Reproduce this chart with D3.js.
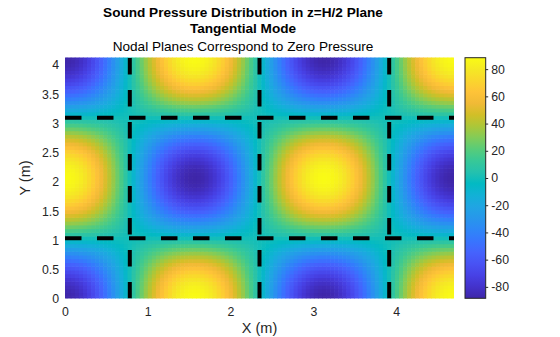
<!DOCTYPE html>
<html><head><meta charset="utf-8">
<script src="https://cdn.jsdelivr.net/npm/d3@7"></script>
<style>
html,body{margin:0;padding:0;background:#fff;}
svg{display:block;font-family:"Liberation Sans",Arial,Helvetica,sans-serif;}
</style></head>
<body>
<svg id="chart" width="560" height="337"></svg>
<script>
// ---- data ----
const roomSize = [4.7, 4.12];            // plotted extent in X and Y (m)
const amplitude = 88.4;                   // peak |pressure| (colour limits)
// normalized pressure profile along X (97 samples, 0..Lx)
const xShape = [1,0.995,0.981,0.957,0.924,0.882,0.831,0.773,0.707,0.634,0.556,0.471,0.383,0.29,0.195,0.098,0,
 -0.098,-0.195,-0.29,-0.383,-0.471,-0.556,-0.634,-0.707,-0.773,-0.831,-0.882,-0.924,-0.957,-0.981,-0.995,-1,
 -0.995,-0.981,-0.957,-0.924,-0.882,-0.831,-0.773,-0.707,-0.634,-0.556,-0.471,-0.383,-0.29,-0.195,-0.098,0,
 0.098,0.195,0.29,0.383,0.471,0.556,0.634,0.707,0.773,0.831,0.882,0.924,0.957,0.981,0.995,1,
 0.995,0.981,0.957,0.924,0.882,0.831,0.773,0.707,0.634,0.556,0.471,0.383,0.29,0.195,0.098,0,
 -0.098,-0.195,-0.29,-0.383,-0.471,-0.556,-0.634,-0.707,-0.773,-0.831,-0.882,-0.924,-0.957,-0.981,-0.995,-1];
// normalized pressure profile along Y (65 samples, 0..Ly), as seen in the x=0 column
const yShape = [-1,-0.995,-0.981,-0.957,-0.924,-0.882,-0.831,-0.773,-0.707,-0.634,-0.556,-0.471,-0.383,-0.29,-0.195,-0.098,0,
 0.098,0.195,0.29,0.383,0.471,0.556,0.634,0.707,0.773,0.831,0.882,0.924,0.957,0.981,0.995,1,
 0.995,0.981,0.957,0.924,0.882,0.831,0.773,0.707,0.634,0.556,0.471,0.383,0.29,0.195,0.098,0,
 -0.098,-0.195,-0.29,-0.383,-0.471,-0.556,-0.634,-0.707,-0.773,-0.831,-0.882,-0.924,-0.957,-0.981,-0.995,-1];
const nodalX = [0.783, 2.35, 3.917];
const nodalY = [1.03, 3.09];
const xTicks = [0, 1, 2, 3, 4];
const yTicks = [0, 0.5, 1, 1.5, 2, 2.5, 3, 3.5, 4];
const cTicks = [-80, -60, -40, -20, 0, 20, 40, 60, 80];
const titles = ["Sound Pressure Distribution in z=H/2 Plane", "Tangential Mode", "Nodal Planes Correspond to Zero Pressure"];

// parula colormap anchors (style)
const parula = ["rgb(62,38,168)","rgb(67,50,203)","rgb(71,65,229)","rgb(72,82,244)","rgb(69,99,253)","rgb(56,117,254)",
 "rgb(46,135,247)","rgb(39,151,235)","rgb(32,165,227)","rgb(18,177,214)","rgb(2,186,195)","rgb(36,193,174)",
 "rgb(55,200,151)","rgb(87,204,122)","rgb(129,204,89)","rgb(171,199,57)","rgb(209,191,39)","rgb(240,186,54)",
 "rgb(254,195,56)","rgb(250,214,45)","rgb(245,233,36)","rgb(249,251,21)"];

// ---- build grid table ----
const nx = xShape.length, ny = yShape.length;
const dx = roomSize[0] / (nx - 1), dy = roomSize[1] / (ny - 1);
const cells = [];
for (let j = 0; j < ny; j++) for (let i = 0; i < nx; i++) {
  cells.push({x: i * dx, y: j * dy, v: amplitude * xShape[i] * yShape[j]});
}

const svg = d3.select("#chart");
const L = 65, R = 454, T = 57.5, B = 298.5;
const x = d3.scaleLinear().domain([0, roomSize[0]]).range([L, R]);
const y = d3.scaleLinear().domain([0, roomSize[1]]).range([B, T]);
const cDomain = parula.map((_, k) => -amplitude + 2 * amplitude * k / (parula.length - 1));
const color = d3.scaleLinear().domain(cDomain).range(parula).interpolate(d3.interpolateRgb).clamp(true);
const fmt = d => String(d);

svg.append("clipPath").attr("id", "clip").append("rect")
  .attr("x", L).attr("y", T).attr("width", R - L).attr("height", B - T);

const g = svg.append("g").attr("clip-path", "url(#clip)");
g.selectAll("rect.cell").data(cells).enter().append("rect").attr("class", "cell")
  .attr("x", d => x(d.x - dx / 2) - 0.3)
  .attr("y", d => y(d.y + dy / 2) - 0.3)
  .attr("width", x(dx) - x(0) + 0.6)
  .attr("height", y(0) - y(dy) + 0.6)
  .attr("fill", d => color(d.v));

// nodal dashed lines
const dash = "16.5 15.5";
g.selectAll("line.nx").data(nodalX).enter().append("line")
  .attr("x1", d => x(d)).attr("x2", d => x(d))
  .attr("y1", y(0)).attr("y2", y(roomSize[1]))
  .attr("stroke", "#000").attr("stroke-width", 4).attr("stroke-dasharray", dash);
g.selectAll("line.ny").data(nodalY).enter().append("line")
  .attr("y1", d => y(d)).attr("y2", d => y(d))
  .attr("x1", x(0)).attr("x2", x(roomSize[0]))
  .attr("stroke", "#000").attr("stroke-width", 4).attr("stroke-dasharray", dash);

// axes
const tickCol = "#262626";
const xAxis = d3.axisBottom(x).tickValues(xTicks).tickSize(0).tickPadding(0).tickFormat(fmt);
const ax = svg.append("g").attr("transform", `translate(0,${B})`).call(xAxis);
ax.select(".domain").remove();
ax.selectAll("text").attr("dy", null).attr("y", 17).attr("font-size", "12.3px").attr("fill", tickCol)
  .attr("font-family", "'Liberation Sans',Arial,sans-serif");

const yAxis = d3.axisLeft(y).tickValues(yTicks).tickSize(0).tickPadding(0).tickFormat(fmt);
const ay = svg.append("g").attr("transform", `translate(${L},0)`).call(yAxis);
ay.select(".domain").remove();
ay.selectAll("text").attr("x", -6).attr("dy", "0.36em").attr("font-size", "12.3px").attr("fill", tickCol)
  .attr("font-family", "'Liberation Sans',Arial,sans-serif");

svg.append("text").attr("x", (L + R) / 2).attr("y", 333).attr("text-anchor", "middle")
  .attr("font-size", "14.5px").attr("fill", tickCol).text("X (m)");
svg.append("text").attr("transform", `translate(30,${(T + B) / 2}) rotate(-90)`).attr("text-anchor", "middle")
  .attr("font-size", "14.5px").attr("fill", tickCol).text("Y (m)");

// titles
const tx = 243;
svg.append("text").attr("x", tx).attr("y", 16.8).attr("text-anchor", "middle").attr("font-weight", "bold")
  .attr("font-size", "13.6px").attr("fill", "#000").text(titles[0]);
svg.append("text").attr("x", tx).attr("y", 33.4).attr("text-anchor", "middle").attr("font-weight", "bold")
  .attr("font-size", "13.6px").attr("fill", "#000").text(titles[1]);
svg.append("text").attr("x", tx).attr("y", 51.2).attr("text-anchor", "middle")
  .attr("font-size", "13.6px").attr("fill", "#000").text(titles[2]);

// colorbar
const cbL = 465, cbR = 485.7;
const cy = d3.scaleLinear().domain([-amplitude, amplitude]).range([B - 0.2, T + 0.2]);
const grad = svg.append("defs").append("linearGradient").attr("id", "cbgrad")
  .attr("x1", 0).attr("x2", 0).attr("y1", 1).attr("y2", 0);
grad.selectAll("stop").data(cDomain).enter().append("stop")
  .attr("offset", (d, k) => k / (cDomain.length - 1)).attr("stop-color", d => color(d));
svg.append("rect").attr("x", cbL).attr("y", cy(amplitude)).attr("width", cbR - cbL)
  .attr("height", cy(-amplitude) - cy(amplitude)).attr("fill", "url(#cbgrad)")
  .attr("stroke", tickCol).attr("stroke-width", 1);
const cAxis = d3.axisRight(cy).tickValues(cTicks).tickSize(2.5).tickPadding(3).tickFormat(fmt);
const ac = svg.append("g").attr("transform", `translate(${cbR},0)`).call(cAxis);
ac.select(".domain").remove();
ac.selectAll(".tick line").attr("stroke", tickCol);
ac.selectAll("text").attr("font-size", "12.3px").attr("fill", tickCol)
  .attr("font-family", "'Liberation Sans',Arial,sans-serif");
</script>
</body></html>
